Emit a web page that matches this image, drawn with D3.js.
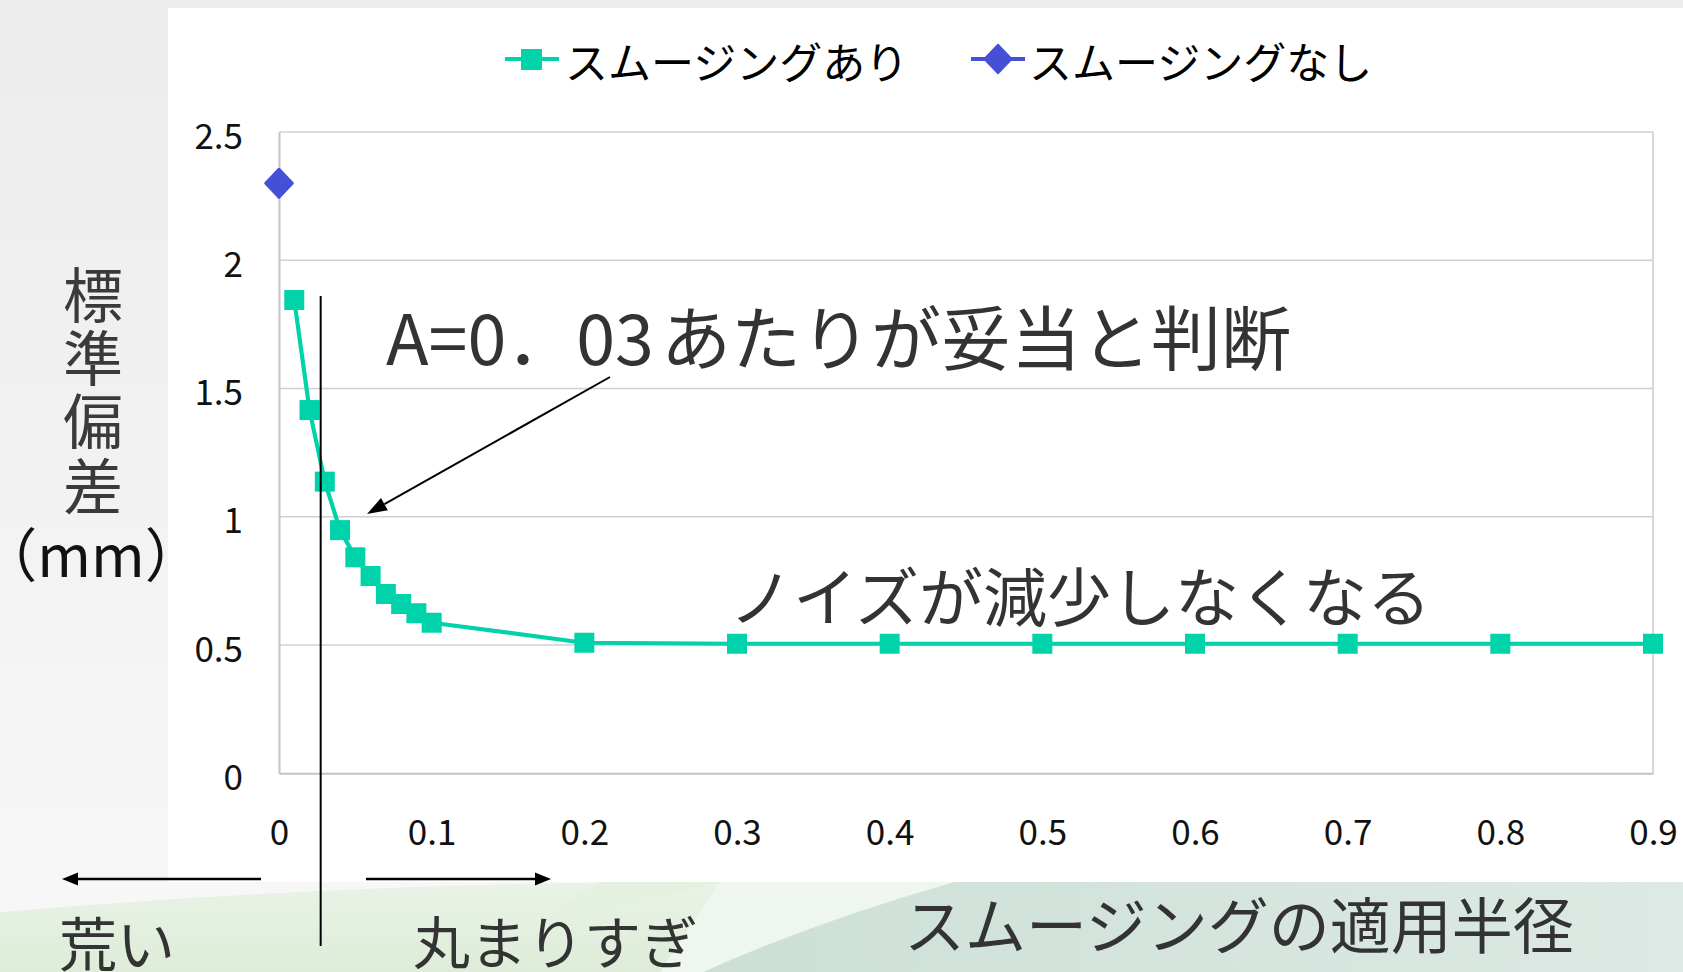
<!DOCTYPE html>
<html><head><meta charset="utf-8">
<script src="https://cdn.jsdelivr.net/npm/d3@7"></script>
<style>
html,body{margin:0;padding:0;background:#efefef;overflow:hidden;}
svg{display:block;}
text{font-family:"Noto Sans CJK JP","Noto Sans",sans-serif;}
</style></head>
<body>
<svg id="chart" width="1683" height="972"></svg>
<script>
// ---- data ----
const xTicks = [0, 0.1, 0.2, 0.3, 0.4, 0.5, 0.6, 0.7, 0.8, 0.9];
const yTicks = [0, 0.5, 1, 1.5, 2, 2.5];
const smoothX = [0.01, 0.02, 0.03, 0.04, 0.05, 0.06, 0.07, 0.08, 0.09, 0.1, 0.2, 0.3, 0.4, 0.5, 0.6, 0.7, 0.8, 0.9];
const smoothY = [1.845, 1.416, 1.137, 0.948, 0.842, 0.769, 0.699, 0.660, 0.624, 0.587, 0.509, 0.505, 0.505, 0.505, 0.505, 0.505, 0.505, 0.505];
const rawX = [0];
const rawY = [2.3];
const seriesNames = ["スムージングあり", "スムージングなし"];
const yTitleChars = ["標", "準", "偏", "差"];
const yTitleUnit = "（mm）";
const xTitle = "スムージングの適用半径";
const noteA1 = "A=0．03";
const noteA2 = "あたりが妥当と判断";
const noteB = "ノイズが減少しなくなる";
const leftLabel = "荒い";
const rightLabel = "丸まりすぎ";
const chosenA = 0.0273;

const GREEN = "#00d3aa", BLUE = "#4550d6";

const svg = d3.select("#chart");
const defs = svg.append("defs");

// ---- background (slide) ----
const gLeft = defs.append("linearGradient").attr("id","gl").attr("x1",0).attr("y1",0).attr("x2",0).attr("y2",1);
gLeft.append("stop").attr("offset","0").attr("stop-color","#ececec");
gLeft.append("stop").attr("offset","1").attr("stop-color","#f8f8f8");
svg.append("rect").attr("width",1683).attr("height",972).attr("fill","url(#gl)");
svg.append("rect").attr("x",168).attr("y",8).attr("width",1515).attr("height",874).attr("fill","#ffffff");

// bottom band
svg.append("rect").attr("x",0).attr("y",882).attr("width",1683).attr("height",90).attr("fill","#f3f8f2");
const gBand = defs.append("linearGradient").attr("id","gb").attr("x1",0).attr("y1",0).attr("x2",0).attr("y2",1);
gBand.append("stop").attr("offset","0").attr("stop-color","#e9f3e6");
gBand.append("stop").attr("offset","1").attr("stop-color","#deecd9");
svg.append("path").attr("d","M0,912 Q380,880 720,882 L720,972 L0,972 Z").attr("fill","url(#gb)");
svg.append("path").attr("d","M0,882 L720,882 Q380,880 0,912 Z").attr("fill","#f7f7f7");
svg.append("path").attr("d","M540,930 Q640,900 720,882 L600,882 Q560,905 540,930 Z").attr("fill","#e4f1e1");
svg.append("path").attr("d","M660,972 L720,882 L960,882 L720,972 Z").attr("fill","#eef6ef");
const gDark = defs.append("linearGradient").attr("id","gd").attr("x1",0).attr("y1",0).attr("x2",1).attr("y2",0);
gDark.append("stop").attr("offset","0").attr("stop-color","#cce0d6");
gDark.append("stop").attr("offset","1").attr("stop-color","#dde9e4");
svg.append("path").attr("d","M703,972 Q820,920 955,882 L1683,882 L1683,972 Z").attr("fill","url(#gd)");

// ---- scales ----
const x = d3.scaleLinear().domain([0, 0.9]).range([279, 1653]);
const y = d3.scaleLinear().domain([0, 2.5]).range([773.3, 132]);

// grid
svg.append("g").selectAll("line").data(yTicks.filter(d=>d>0)).join("line")
  .attr("x1",x(0)).attr("x2",x(0.9)).attr("y1",d=>y(d)).attr("y2",d=>y(d))
  .attr("stroke","#d0d0d0").attr("stroke-width",1.6);
svg.append("line").attr("x1",x(0.9)).attr("x2",x(0.9)).attr("y1",y(2.5)).attr("y2",y(0))
  .attr("stroke","#cfcfcf").attr("stroke-width",1.6);

// axes
const yAxis = d3.axisLeft(y).tickValues(yTicks).tickSize(0).tickPadding(0).tickFormat(d3.format("~g"));
const gy = svg.append("g").attr("transform",`translate(${x(0)},0)`).call(yAxis);
gy.select(".domain").attr("stroke","#c4c4c4").attr("stroke-width",2);
gy.selectAll("text").attr("x",-36).attr("dy",null).attr("y",16).attr("dominant-baseline","auto")
  .attr("font-size",35).attr("fill","#111").attr("text-anchor","end")
  .style("font-family","'Noto Sans CJK JP',sans-serif");

const xAxis = d3.axisBottom(x).tickValues(xTicks).tickSize(0).tickPadding(0).tickFormat(d3.format("~g"));
const gx = svg.append("g").attr("transform",`translate(0,${y(0)})`).call(xAxis);
gx.select(".domain").attr("stroke","#c4c4c4").attr("stroke-width",2);
gx.selectAll("text").attr("y",72).attr("dy",null).attr("dominant-baseline","auto")
  .attr("font-size",35).attr("fill","#111")
  .style("font-family","'Noto Sans CJK JP',sans-serif");

// ---- series: smoothing on ----
const pts = smoothX.map((d,i)=>[d, smoothY[i]]);
svg.append("path").datum(pts)
  .attr("d", d3.line().x(d=>x(d[0])).y(d=>y(d[1])))
  .attr("fill","none").attr("stroke",GREEN).attr("stroke-width",4.2).attr("stroke-linejoin","round");
const ms = 20;
svg.append("g").selectAll("rect").data(pts).join("rect")
  .attr("x",d=>x(d[0])-ms/2).attr("y",d=>y(d[1])-ms/2).attr("width",ms).attr("height",ms)
  .attr("fill",GREEN);

// ---- series: smoothing off ----
const diamond = (cx,cy,r)=>`M${cx},${cy-r} L${cx+r*0.95},${cy} L${cx},${cy+r} L${cx-r*0.95},${cy} Z`;
svg.append("g").selectAll("path").data(rawX.map((d,i)=>[d, rawY[i]])).join("path")
  .attr("d",d=>diamond(x(d[0]), y(d[1]), 14))
  .attr("fill",BLUE).attr("stroke",BLUE).attr("stroke-width",3).attr("stroke-linejoin","round");

// ---- legend ----
const lg = svg.append("g");
lg.append("line").attr("x1",505).attr("x2",559).attr("y1",59).attr("y2",59).attr("stroke",GREEN).attr("stroke-width",4.2);
lg.append("rect").attr("x",521).attr("y",49).attr("width",21).attr("height",21).attr("fill",GREEN);
lg.append("text").attr("x",565).attr("y",60).attr("dominant-baseline","central")
  .attr("font-size",43).attr("fill","#000").text(seriesNames[0]);
lg.append("line").attr("x1",971).attr("x2",1025).attr("y1",59).attr("y2",59).attr("stroke",BLUE).attr("stroke-width",4.2);
lg.append("path").attr("d",diamond(998,59,14)).attr("fill",BLUE).attr("stroke",BLUE).attr("stroke-width",2.5).attr("stroke-linejoin","round");
lg.append("text").attr("x",1029).attr("y",60).attr("dominant-baseline","central")
  .attr("font-size",43).attr("fill","#000").text(seriesNames[1]);

// ---- y title (one text, stacked chars) ----
const yc = [290.5, 353.5, 417, 481.5];
const yt = svg.append("text").attr("text-anchor","middle").attr("dominant-baseline","central")
  .attr("font-size",60).attr("fill","#3a3a3a");
yt.selectAll("tspan").data(yTitleChars).join("tspan")
  .attr("x",93).attr("y",(d,i)=>yc[i]).text(d=>d);
svg.append("text").attr("x",91).attr("y",552).attr("text-anchor","middle").attr("dominant-baseline","central")
  .attr("font-size",58).attr("fill","#111").text(yTitleUnit);

// ---- annotations ----
svg.append("line").attr("x1",x(chosenA)).attr("x2",x(chosenA)).attr("y1",296).attr("y2",946)
  .attr("stroke","#000").attr("stroke-width",2);

function arrow(x1,y1,x2,y2,w,hl,hw){
  const a = Math.atan2(y2-y1,x2-x1);
  const bx = x2 - hl*Math.cos(a), by = y2 - hl*Math.sin(a);
  svg.append("line").attr("x1",x1).attr("y1",y1).attr("x2",bx).attr("y2",by).attr("stroke","#000").attr("stroke-width",w);
  const px = -Math.sin(a)*hw/2, py = Math.cos(a)*hw/2;
  svg.append("path").attr("d",`M${x2},${y2} L${bx+px},${by+py} L${bx-px},${by-py} Z`).attr("fill","#000");
}
arrow(610, 377, 367, 514, 2, 20, 14);
arrow(261, 879, 62, 879, 2.5, 16, 13);
arrow(366, 879, 551, 879, 2.5, 16, 13);

const tA = svg.append("text").attr("y",334).attr("dominant-baseline","central").attr("font-size",70).attr("fill","#333");
tA.append("tspan").attr("x",386).text(noteA1);
tA.append("tspan").attr("x",661).text(noteA2);

svg.append("text").attr("x",729).attr("y",593).attr("dominant-baseline","central")
  .attr("font-size",64).attr("fill","#333").text(noteB);
svg.append("text").attr("x",904).attr("y",922).attr("dominant-baseline","central")
  .attr("font-size",61).attr("fill","#333").text(xTitle);
svg.append("text").attr("x",59).attr("y",941).attr("dominant-baseline","central")
  .attr("font-size",58).attr("fill","#333").text(leftLabel);
svg.append("text").attr("x",413).attr("y",939).attr("dominant-baseline","central")
  .attr("font-size",57).attr("fill","#333").text(rightLabel);
</script>
</body></html>
